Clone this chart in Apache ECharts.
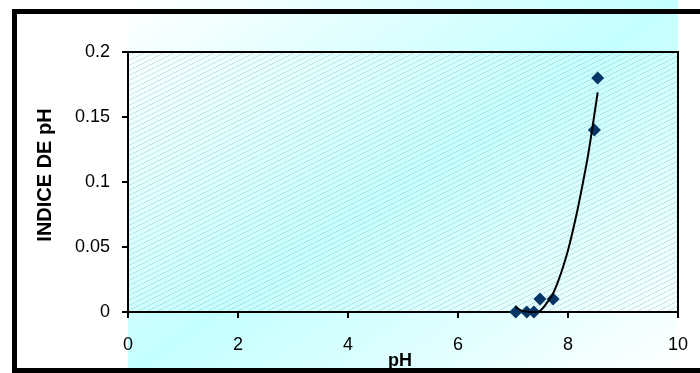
<!DOCTYPE html>
<html>
<head>
<meta charset="utf-8">
<script src="https://cdn.jsdelivr.net/npm/echarts@6/dist/echarts.min.js"></script>
<style>
  html, body { margin: 0; padding: 0; background: #ffffff; }
  #chart { width: 700px; height: 373px; }
</style>
</head>
<body>
<div id="chart"></div>
<script>
// Measured samples: pH against the pH index
const phValues    = [7.05, 7.25, 7.38, 7.49, 7.73, 8.48, 8.54];
const indexValues = [0, 0, 0, 0.01, 0.01, 0.14, 0.18];

// Trend curve through the samples
const trendPH    = [7.04, 7.13, 7.25, 7.4, 7.49, 7.6, 7.73, 7.82, 7.92, 8.01, 8.16, 8.26, 8.35, 8.43, 8.54];
const trendIndex = [0.0046, 0.0015, 0.0002, 0.0, 0.0008, 0.006, 0.0144, 0.0235, 0.036, 0.049, 0.076, 0.097, 0.117, 0.138, 0.169];

// Axis ranges and tick steps
const xRange = [0, 10];
const xStep = 2;
const yRange = [0, 0.2];
const yStep = 0.05;

const xTitle = 'pH';
const yTitle = 'INDICE DE pH';

const FONT = '"Liberation Sans", Arial, sans-serif';

// Fine upward diagonal hatch used inside the plot area
function makeHatch() {
  const c = document.createElement('canvas');
  c.width = 10; c.height = 5;
  const g = c.getContext('2d');
  for (let x = 0; x < 10; x++) {
    g.fillStyle = (x % 2 === 0) ? 'rgba(120,135,135,0.34)' : 'rgba(120,135,135,0.16)';
    g.fillRect(x, 4 - Math.floor(x / 2), 1, 1);
  }
  return c;
}

const chart = echarts.init(document.getElementById('chart'), null, { renderer: 'canvas' });

const points = phValues.map((v, i) => [v, indexValues[i]]);
const trend = trendPH.map((v, i) => [v, trendIndex[i]]);

chart.setOption({
  animation: false,
  backgroundColor: '#ffffff',
  textStyle: { fontFamily: FONT },
  graphic: [
    {
      // white - turquoise - white diagonal band behind the plot
      type: 'rect', z: -20, silent: true,
      shape: { x: 128, y: 0, width: 550, height: 373 },
      style: {
        fill: new echarts.graphic.LinearGradient(128, 0, 474.5, 511, [
          { offset: 0, color: '#ffffff' },
          { offset: 0.5, color: '#c4ffff' },
          { offset: 1, color: '#ffffff' }
        ], true)
      }
    },
    {
      type: 'rect', z: -15, silent: true,
      shape: { x: 128, y: 52, width: 550, height: 260 },
      style: { fill: { image: makeHatch(), repeat: 'repeat' } }
    },
    {
      // heavy outer frame
      type: 'rect', z: -10, silent: true,
      shape: { x: 14.5, y: 11.5, width: 720, height: 359 },
      style: { fill: 'none', stroke: '#000000', lineWidth: 5 }
    }
  ],
  grid: {
    left: 128, top: 52, width: 550, height: 260,
    outerBoundsMode: 'none',
    containLabel: false,
    show: true, backgroundColor: 'transparent',
    borderColor: '#000000', borderWidth: 2
  },
  xAxis: {
    type: 'value',
    min: xRange[0], max: xRange[1], interval: xStep,
    name: xTitle, nameLocation: 'middle', nameGap: 40,
    nameMoveOverlap: false,
    nameTextStyle: { fontFamily: FONT, fontSize: 18, fontWeight: 'bold', color: '#000', padding: [0, 6, 0, 0] },
    axisLine: { show: true, onZero: false, lineStyle: { color: '#000', width: 2 } },
    axisTick: { show: true, inside: false, length: 6, lineStyle: { color: '#000', width: 2 } },
    axisLabel: { margin: 24, fontFamily: FONT, fontSize: 18, color: '#000' },
    splitLine: { show: false }
  },
  yAxis: {
    type: 'value',
    min: yRange[0], max: yRange[1], interval: yStep,
    name: yTitle, nameLocation: 'middle', nameGap: 73,
    nameMoveOverlap: false,
    nameTextStyle: { fontFamily: FONT, fontSize: 20, fontWeight: 'bold', color: '#000', padding: [0, 0, 0, 14] },
    axisLine: { show: true, lineStyle: { color: '#000', width: 2 } },
    axisTick: { show: true, inside: false, length: 6, lineStyle: { color: '#000', width: 2 } },
    axisLabel: { margin: 18, fontFamily: FONT, fontSize: 18, color: '#000' },
    splitLine: { show: false }
  },
  series: [
    {
      type: 'scatter',
      data: points,
      symbol: 'diamond',
      symbolSize: [13, 13],
      itemStyle: { color: '#043566', opacity: 1 },
      z: 3
    },
    {
      type: 'line',
      data: trend,
      showSymbol: false,
      smooth: 0.3,
      lineStyle: { color: '#000000', width: 2 },
      z: 4
    }
  ]
});
</script>
</body>
</html>
